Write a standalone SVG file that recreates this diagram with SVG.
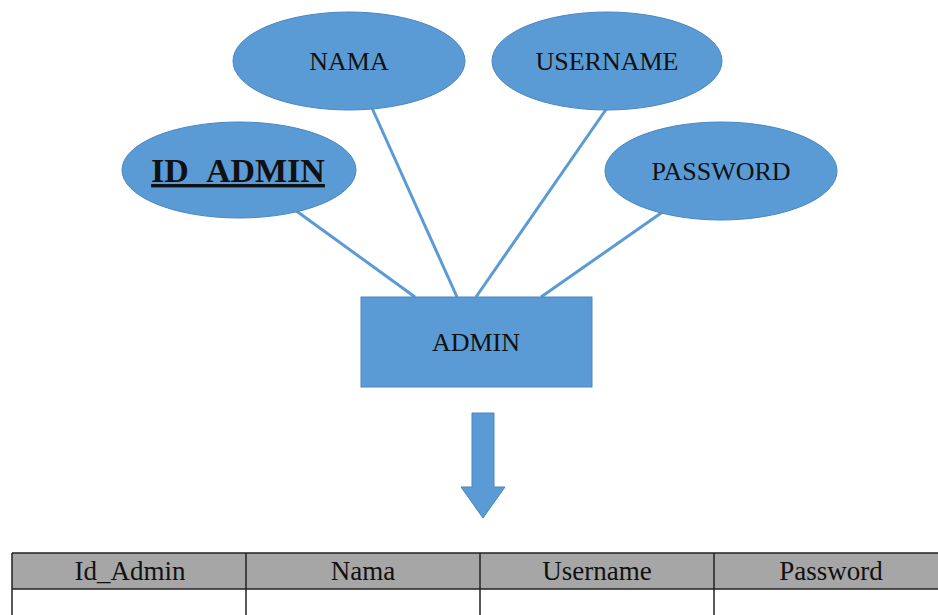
<svg xmlns="http://www.w3.org/2000/svg" width="938" height="615" viewBox="0 0 938 615">
<style>
.ent{fill:#5b9bd5;stroke:#4a86c0;stroke-width:1}
.t{font-family:"Liberation Serif","Times New Roman",serif;font-size:26px;fill:#111;text-anchor:middle}
.k{font-family:"Liberation Serif","Times New Roman",serif;font-size:34px;font-weight:bold;fill:#111;text-anchor:middle;text-decoration:underline}
.c{stroke:#5b9bd5;stroke-width:3;fill:none}
.tt{font-family:"Liberation Serif","Times New Roman",serif;font-size:27px;fill:#111;text-anchor:middle}
.grid{stroke:#222;stroke-width:1.5;fill:none}
</style>
<rect width="938" height="615" fill="#fff"/>
<g id="connectors">
<line class="c" x1="372" y1="108" x2="457" y2="297"/>
<line class="c" x1="607" y1="108" x2="476" y2="297"/>
<line class="c" x1="295" y1="210" x2="415" y2="297"/>
<line class="c" x1="664" y1="211" x2="541" y2="297"/>
</g>
<g id="nama"><ellipse class="ent" cx="349" cy="61" rx="116" ry="49"/><text class="t" x="349" y="70">NAMA</text></g>
<g id="username"><ellipse class="ent" cx="607" cy="61" rx="115" ry="49"/><text class="t" x="607" y="70">USERNAME</text></g>
<g id="id_admin"><ellipse class="ent" cx="239" cy="170" rx="117" ry="48"/><text class="k" x="238" y="182">ID_ADMIN</text></g>
<g id="password"><ellipse class="ent" cx="721" cy="171" rx="116" ry="49"/><text class="t" x="721" y="180">PASSWORD</text></g>
<g id="admin"><rect class="ent" x="361" y="297" width="231" height="90"/><text class="t" x="476" y="351">ADMIN</text></g>
<g id="arrow"><polygon class="ent" points="472,413 494,413 494,487 505,487 483,518 461,487 472,487"/></g>
<g id="table">
<rect x="12" y="553" width="930" height="36" fill="#a6a6a6"/>
<line class="grid" x1="12" y1="553" x2="938" y2="553"/>
<line class="grid" x1="12" y1="589" x2="938" y2="589"/>
<line class="grid" x1="12" y1="553" x2="12" y2="615"/>
<line class="grid" x1="246" y1="553" x2="246" y2="615"/>
<line class="grid" x1="480" y1="553" x2="480" y2="615"/>
<line class="grid" x1="714" y1="553" x2="714" y2="615"/>
<text class="tt" x="130" y="580">Id_Admin</text>
<text class="tt" x="363" y="580">Nama</text>
<text class="tt" x="597" y="580">Username</text>
<text class="tt" x="831" y="580">Password</text>
</g>
</svg>
